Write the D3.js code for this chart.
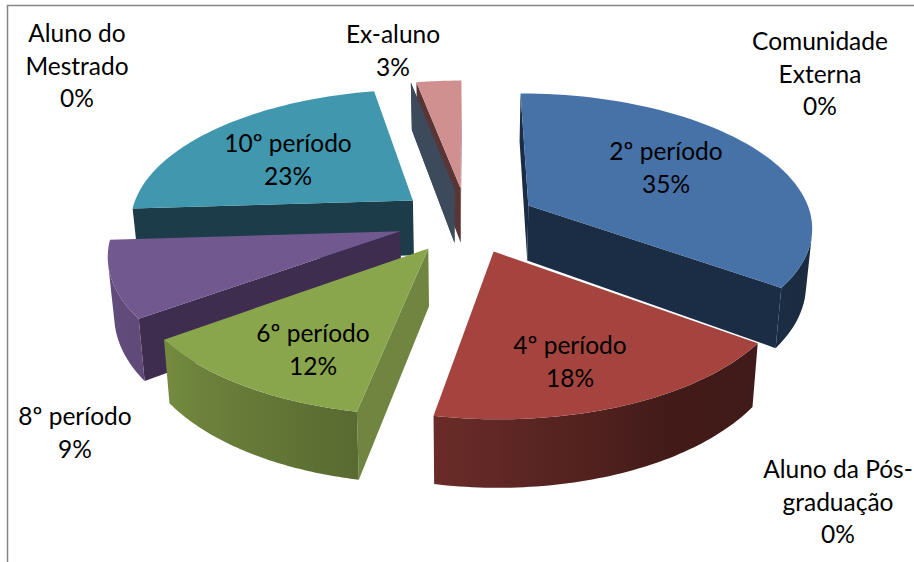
<!DOCTYPE html>
<html lang="pt">
<head>
    <meta charset="UTF-8">
    <title>Distribuição por período</title>
    <script src="https://d3js.org/d3.v7.min.js"></script>
    <style>
        html, body { margin: 0; padding: 0; background: #fff; overflow: hidden; }
        text { font-family: Lato, "Open Sans", sans-serif; font-size: 24.5px; fill: #000; text-anchor: middle; }
    </style>
</head>
<body>
    <svg id="chart" width="914" height="562"></svg>

    <script>
        // Dados
        const categories = ["2º período", "4º período", "6º período", "8º período", "10º período",
            "Aluno do Mestrado", "Ex-aluno", "Comunidade Externa", "Aluno da Pós-graduação"];
        const values = [35, 18, 12, 9, 23, 0, 3, 0, 0];

        // Linhas de cada rótulo
        const labelLines = [
            ["2º período", "35%"], ["4º período", "18%"], ["6º período", "12%"], ["8º período", "9%"],
            ["10º período", "23%"], ["Aluno do", "Mestrado", "0%"], ["Ex-aluno", "3%"],
            ["Comunidade", "Externa", "0%"], ["Aluno da Pós-", "graduação", "0%"]
        ];

        // Estilo
        const topColors = ["#4672a8", "#a5443f", "#8aa64c", "#71588f", "#4097ae", "#3d4a5c", "#d09090", "#4672a8", "#a5443f"];
        const wallColors = ["#1a2d45", "#4a1c18", "#6f8540", "#3f2d50", "#1b3c48", "#3d4a5c", "#5a3535", "#1a2d45", "#4a1c18"];
        const labelX = [666, 570, 313, 75, 288, 77, 393, 820, 838];
        const labelY = [160, 354, 342, 425, 152, 42, 43, 50, 478];
        const lineStep = 32.5;

        // Geometria do pie em perspectiva
        const width = 914, height = 562;
        const cx = 467, cy = 220;
        const radius = 284, explode = 70, depth = 56;
        const focal = 1917, tilt = 0.467, converge = 0.018;

        const svg = d3.select("#chart");
        const defs = svg.append("defs");

        // tom da parede externa conforme o ângulo (graus)
        const wallShade = d3.scaleLinear()
            .domain([90, 150, 190, 234, 270])
            .range([0.38, 0.40, 0.64, 0.84, 0.90])
            .clamp(true);

        const project = (u, v, z) => {
            const s = focal / (focal + v);
            return [cx + u * s * (1 - converge * z), cy - v * tilt * s + z * depth * s];
        };

        const pie = d3.pie().sort(null).value(d => d)
            .startAngle(0).endAngle(2 * Math.PI);

        const arcs = pie(values).map((a, i) => {
            const mid = (a.startAngle + a.endAngle) / 2;
            return { ...a, i, mid, ou: explode * Math.sin(mid), ov: explode * Math.cos(mid) };
        });

        const rimPoint = (d, a, r, z) => project(
            d.ou + r * Math.sin(a),
            d.ov + r * Math.cos(a),
            z
        );

        const line = d3.line();
        const polyPath = pts => line(pts) + "Z";
        const darker = (color, k) => {
            const c = d3.rgb(color);
            return d3.rgb(c.r * k, c.g * k, c.b * k).formatHex();
        };

        // Moldura
        svg.append("path")
            .attr("d", `M7.5,${height}V5.5H${width}`)
            .attr("fill", "none")
            .attr("stroke", "#868686")
            .attr("stroke-width", 1.5);

        // Do fundo para a frente
        const order = arcs.slice().sort((a, b) => d3.descending(Math.cos(a.mid), Math.cos(b.mid)));

        order.forEach(d => {
            const g = svg.append("g");
            const steps = d3.range(0, 61).map(k => d.startAngle + (d.endAngle - d.startAngle) * k / 60);
            const apexTop = rimPoint(d, 0, 0, 0), apexBot = rimPoint(d, 0, 0, 1);

            // paredes internas
            [d.startAngle, d.endAngle].forEach(a => {
                const quad = [apexTop, rimPoint(d, a, radius, 0), rimPoint(d, a, radius, 1), apexBot];
                const area = d3.polygonArea(quad);
                const facing = a === d.startAngle ? area > 1 : area < -1;
                if (facing) {
                    g.append("path").attr("d", polyPath(quad)).attr("fill", wallColors[d.i]);
                }
            });

            // parede externa: só a parte voltada para a frente, com gradiente
            const front = d3.pairs(steps).filter(([a0, a1]) => {
                const quad = [rimPoint(d, a0, radius, 0), rimPoint(d, a1, radius, 0),
                    rimPoint(d, a1, radius, 1), rimPoint(d, a0, radius, 1)];
                return d3.polygonArea(quad) > 0;
            });
            if (d.value > 0 && front.length) {
                const angles = [front[0][0]].concat(front.map(p => p[1]));
                const upper = angles.map(a => rimPoint(d, a, radius, 0));
                const lower = angles.map(a => rimPoint(d, a, radius, 1)).reverse();
                const xs = upper.map(p => p[0]);
                const x0 = xs[0], x1 = xs[xs.length - 1];
                const id = "wall" + d.i;
                const grad = defs.append("linearGradient").attr("id", id)
                    .attr("gradientUnits", "userSpaceOnUse")
                    .attr("x1", x0).attr("x2", x1).attr("y1", 0).attr("y2", 0);
                angles.forEach((a, k) => {
                    grad.append("stop")
                        .attr("offset", (xs[k] - x0) / (x1 - x0))
                        .attr("stop-color", darker(topColors[d.i], wallShade(a * 180 / Math.PI)));
                });
                g.append("path").attr("d", polyPath(upper.concat(lower))).attr("fill", `url(#${id})`);
            }

            // topo
            if (d.value > 0) {
                const top = [apexTop].concat(steps.map(a => rimPoint(d, a, radius, 0)));
                g.append("path").attr("d", polyPath(top)).attr("fill", topColors[d.i]);
            }
        });

        // Rótulos
        labelLines.forEach((lines, i) => {
            const t = svg.append("text");
            lines.forEach((txt, k) => {
                t.append("tspan").attr("x", labelX[i]).attr("y", labelY[i] + k * lineStep).text(txt);
            });
        });
    </script>
</body>
</html>
